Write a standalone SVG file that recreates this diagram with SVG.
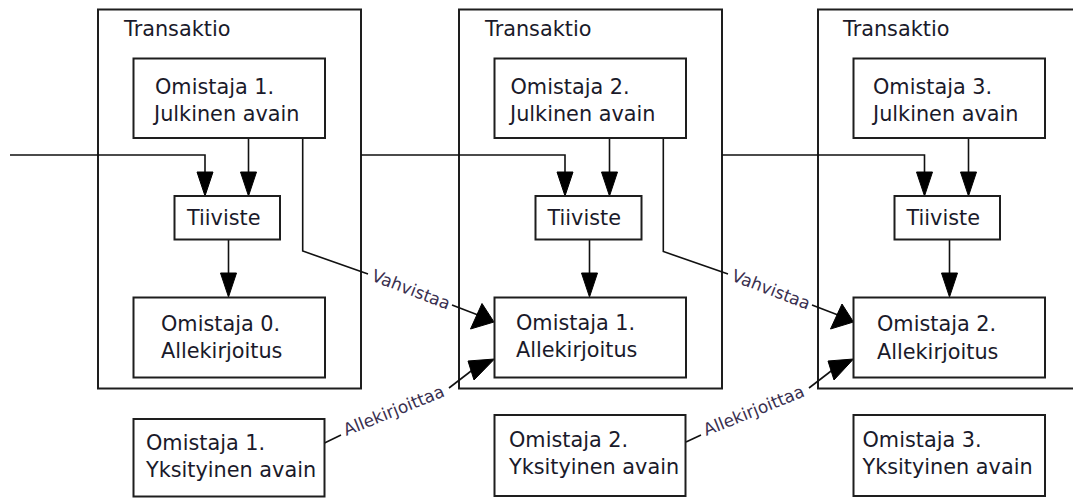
<svg xmlns="http://www.w3.org/2000/svg" width="1073" height="498" viewBox="0 0 1073 498">
<style>
.frame{fill:none;stroke:#1e1e1e;stroke-width:2}
.box{fill:#fff;stroke:#1e1e1e;stroke-width:2}
.t{font-family:"DejaVu Sans",Verdana,sans-serif;font-size:20.8px;fill:#1a1a2a}
.lbl{font-family:"DejaVu Sans",Verdana,sans-serif;font-size:17px;fill:#3a3050}
.ln{fill:none;stroke:#111;stroke-width:1.6}
.ah{fill:#000;stroke:#000;stroke-width:1;stroke-linejoin:round}
</style>
<rect width="1073" height="498" fill="#fff"/>

<g id="trans1">
<rect class="frame" x="98" y="9.5" width="263" height="379"/>
<text class="t" x="124" y="36">Transaktio</text>
</g>
<g id="trans2">
<rect class="frame" x="459" y="9.5" width="263" height="379"/>
<text class="t" x="485" y="36">Transaktio</text>
</g>
<g id="trans3">
<rect class="frame" x="818" y="9.5" width="270" height="379"/>
<text class="t" x="843" y="36">Transaktio</text>
</g>

<g id="connectors">
<polyline class="ln" points="10,155 205,155 205,176"/>
<polyline class="ln" points="361,155 565,155 565,176"/>
<polyline class="ln" points="722,155 924.5,155 924.5,176"/>
<line class="ln" x1="248.5" y1="138" x2="248.5" y2="176"/>
<line class="ln" x1="609.5" y1="138" x2="609.5" y2="176"/>
<line class="ln" x1="968.5" y1="138" x2="968.5" y2="176"/>
<line class="ln" x1="228.5" y1="239.5" x2="228.5" y2="278"/>
<line class="ln" x1="589.5" y1="239.5" x2="589.5" y2="278"/>
<line class="ln" x1="949.5" y1="239.5" x2="949.5" y2="278"/>
<polygon class="ah" points="197,172 213,172 205,196"/>
<polygon class="ah" points="240.5,172 256.5,172 248.5,196"/>
<polygon class="ah" points="557,172 573,172 565,196"/>
<polygon class="ah" points="601.5,172 617.5,172 609.5,196"/>
<polygon class="ah" points="916.5,172 932.5,172 924.5,196"/>
<polygon class="ah" points="960.5,172 976.5,172 968.5,196"/>
<polygon class="ah" points="220.5,273 236.5,273 228.5,297"/>
<polygon class="ah" points="581.5,273 597.5,273 589.5,297"/>
<polygon class="ah" points="941.5,273 957.5,273 949.5,297"/>
<!-- Vahvistaa (line broken around the label) -->
<polyline class="ln" points="302.7,138 302.7,251 368,274"/>
<line class="ln" x1="452" y1="305" x2="478" y2="315"/>
<polyline class="ln" points="663.3,138 663.3,251.5 728,274"/>
<line class="ln" x1="812" y1="305" x2="838" y2="315"/>
<polygon class="ah" points="482,303.5 494,322 470.5,329"/>
<polygon class="ah" points="842,304 853.5,322 830.5,329"/>
<text class="lbl" transform="translate(409,295) rotate(21)" text-anchor="middle">Vahvistaa</text>
<text class="lbl" transform="translate(769,295) rotate(21)" text-anchor="middle">Vahvistaa</text>
<!-- Allekirjoittaa (line broken around the label) -->
<line class="ln" x1="324.5" y1="443" x2="341" y2="435"/>
<line class="ln" x1="449" y1="388" x2="475" y2="368"/>
<line class="ln" x1="686" y1="442" x2="701" y2="435"/>
<line class="ln" x1="809" y1="388" x2="835" y2="368"/>
<polygon class="ah" points="468,361 494.5,359 474,380"/>
<polygon class="ah" points="828,361 853.5,359 834,380"/>
<text class="lbl" transform="translate(396,416) rotate(-22)" text-anchor="middle">Allekirjoittaa</text>
<text class="lbl" transform="translate(756,416) rotate(-22)" text-anchor="middle">Allekirjoittaa</text>
</g>

<g id="pub1">
<rect class="box" x="133.5" y="58.5" width="191.5" height="79.5"/>
<text class="t" x="155" y="93.5">Omistaja 1.</text>
<text class="t" x="154" y="120.5">Julkinen avain</text>
</g>
<g id="hash1">
<rect class="box" x="174.5" y="196" width="105.5" height="43.5"/>
<text class="t" x="187" y="225">Tiiviste</text>
</g>
<g id="sig0">
<rect class="box" x="133.5" y="297.5" width="191.5" height="80"/>
<text class="t" x="161" y="330.5">Omistaja 0.</text>
<text class="t" x="161" y="358">Allekirjoitus</text>
</g>
<g id="priv1">
<rect class="box" x="133.5" y="419" width="191" height="77.5"/>
<text class="t" x="146" y="450">Omistaja 1.</text>
<text class="t" x="146" y="477">Yksityinen avain</text>
</g>

<g id="pub2">
<rect class="box" x="494.5" y="58.5" width="191.5" height="79.5"/>
<text class="t" x="510.5" y="93.5">Omistaja 2.</text>
<text class="t" x="510" y="120.5">Julkinen avain</text>
</g>
<g id="hash2">
<rect class="box" x="535.5" y="196" width="106" height="43.5"/>
<text class="t" x="547.5" y="225">Tiiviste</text>
</g>
<g id="sig1">
<rect class="box" x="494.5" y="297.5" width="191.5" height="80"/>
<text class="t" x="516" y="329.5">Omistaja 1.</text>
<text class="t" x="516" y="357">Allekirjoitus</text>
</g>
<g id="priv2">
<rect class="box" x="494.5" y="415" width="191" height="81"/>
<text class="t" x="509" y="446.5">Omistaja 2.</text>
<text class="t" x="509" y="474">Yksityinen avain</text>
</g>

<g id="pub3">
<rect class="box" x="853.5" y="58.5" width="191.5" height="79.5"/>
<text class="t" x="873" y="93.5">Omistaja 3.</text>
<text class="t" x="873" y="120.5">Julkinen avain</text>
</g>
<g id="hash3">
<rect class="box" x="894.5" y="196" width="105.5" height="43.5"/>
<text class="t" x="906.5" y="225">Tiiviste</text>
</g>
<g id="sig2">
<rect class="box" x="853.5" y="297.5" width="191.5" height="80"/>
<text class="t" x="877" y="331">Omistaja 2.</text>
<text class="t" x="877" y="358.5">Allekirjoitus</text>
</g>
<g id="priv3">
<rect class="box" x="853.5" y="415" width="191.5" height="81"/>
<text class="t" x="862.5" y="446.5">Omistaja 3.</text>
<text class="t" x="862.5" y="474">Yksityinen avain</text>
</g>
</svg>
